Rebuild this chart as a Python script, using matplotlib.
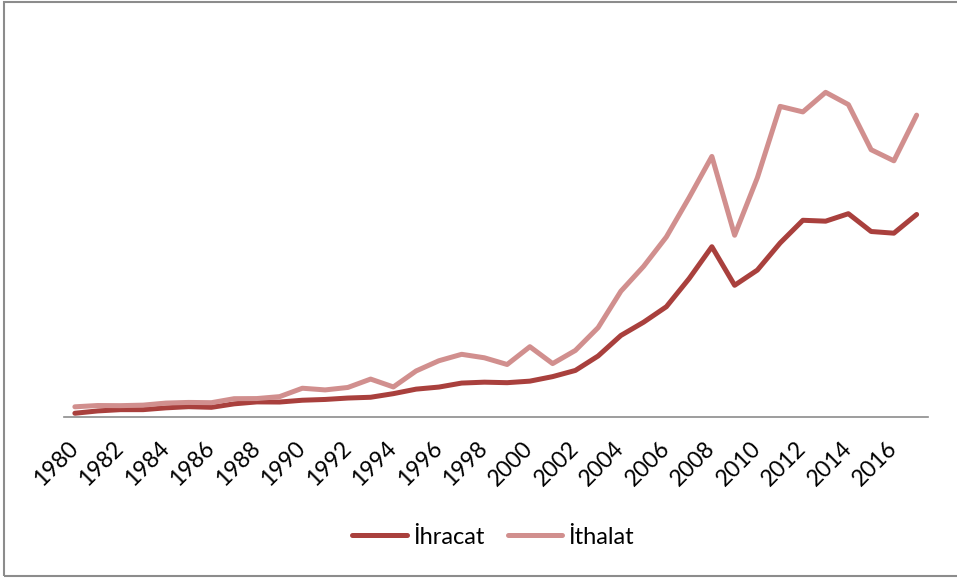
import matplotlib.pyplot as plt
from matplotlib.patches import Rectangle

# Yillar ve degerler (milyar $)
years = list(range(1980, 2018))
ihracat = [2.9, 4.7, 5.7, 5.7, 7.1, 8.0, 7.5, 10.2, 11.7, 11.6,
           13.0, 13.6, 14.7, 15.3, 18.1, 21.6, 23.2, 26.3, 27.0, 26.6,
           27.8, 31.3, 36.1, 47.3, 63.2, 73.5, 85.5, 107.3, 132.0, 102.1,
           113.9, 134.9, 152.5, 151.8, 157.6, 143.8, 142.5, 157.0]
ithalat = [7.9, 8.9, 8.8, 9.2, 10.8, 11.3, 11.1, 14.2, 14.3, 15.8,
           22.3, 21.0, 22.9, 29.4, 23.3, 35.7, 43.6, 48.6, 45.9, 40.7,
           54.5, 41.4, 51.6, 69.3, 97.5, 116.8, 139.6, 170.1, 202.0, 140.9,
           185.5, 240.8, 236.5, 251.7, 242.2, 207.2, 198.6, 234.0]
tick_labels = [str(y) for y in years[::2]]

plt.rcParams['font.family'] = ['Lato', 'DejaVu Sans']

fig = plt.figure(figsize=(9.57, 5.78), dpi=100)
ax = fig.add_axes([63.5 / 957, 161 / 578, (928 - 63.5) / 957, (548 - 161) / 578])

x = list(range(len(years)))
ax.plot(x, ihracat, color='#A9403D', linewidth=3.6, solid_capstyle='round',
        solid_joinstyle='round', label='İhracat')
ax.plot(x, ithalat, color='#D18F8E', linewidth=3.6, solid_capstyle='round',
        solid_joinstyle='round', label='İthalat')

ax.set_xlim(-0.5, len(years) - 0.5)
ax.set_ylim(0, 300)
ax.set_yticks([])
ax.set_xticks(x[::2])
ax.set_xticklabels(tick_labels, rotation=45, ha='right', va='center',
                   rotation_mode='anchor', fontsize=16.5)
ax.tick_params(axis='x', length=0, pad=20)
for s in ['top', 'right', 'left']:
    ax.spines[s].set_visible(False)
ax.spines['bottom'].set_color('#8C8C8C')
ax.spines['bottom'].set_linewidth(1.2)

fig.legend(loc='center', bbox_to_anchor=(493 / 957, 1 - 537 / 578), ncol=2,
           frameon=False, fontsize=17, handlelength=2.3, columnspacing=1.0,
           handletextpad=0.25)

# cerceve
fig.patches.append(Rectangle((4 / 957, 2 / 578), 1.0, 1 - 4 / 578,
                             transform=fig.transFigure, fill=False,
                             edgecolor='#8C8C8C', linewidth=1.5))

plt.savefig('out.png', dpi=100)
